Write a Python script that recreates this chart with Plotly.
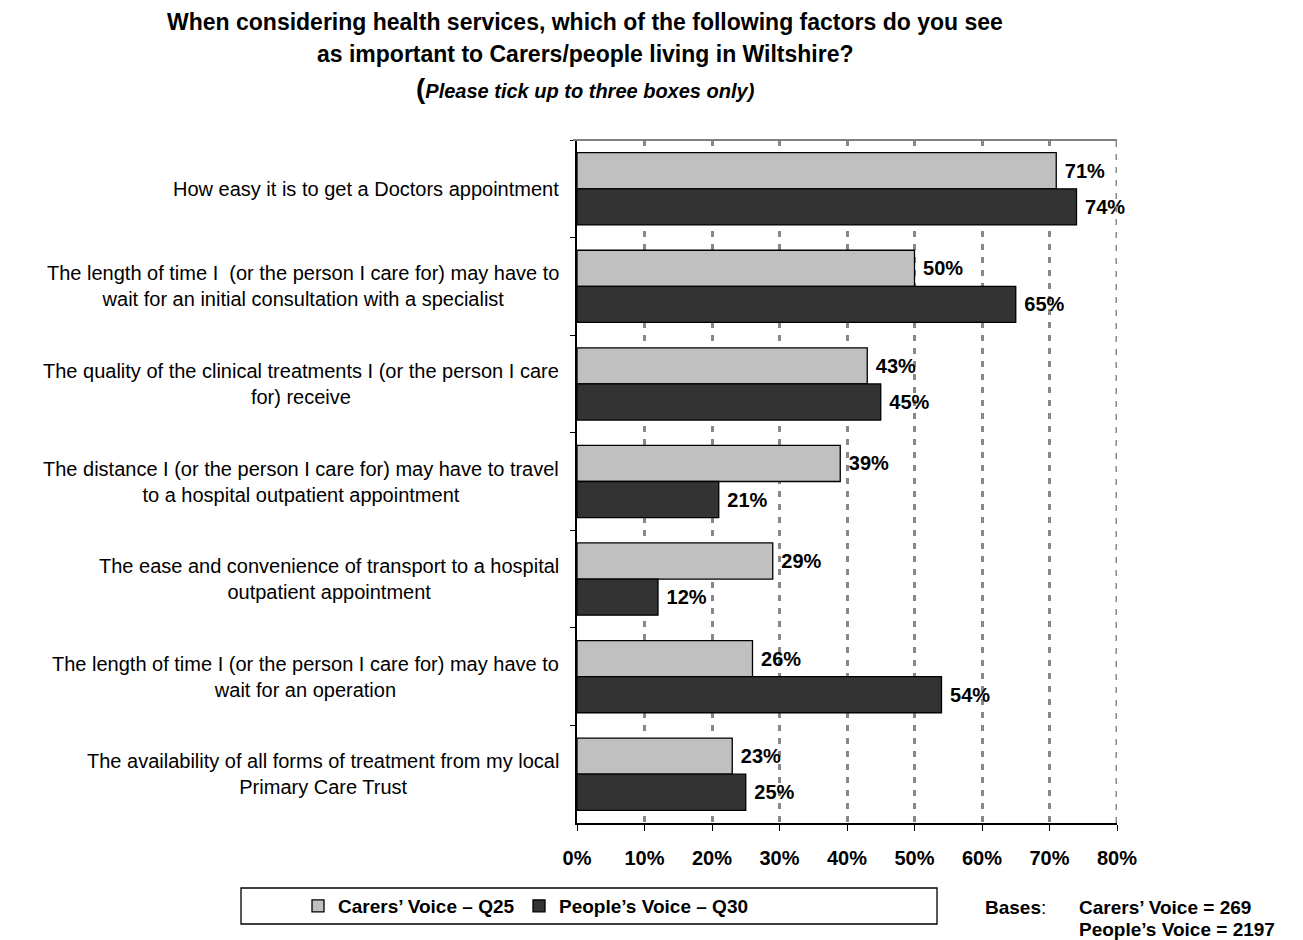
import plotly.graph_objects as go

# Survey factors (top to bottom) and the share of respondents choosing each
factors = [
    "How easy it is to get a Doctors appointment",
    "The length of time I  (or the person I care for) may have to<br>wait for an initial consultation with a specialist",
    "The quality of the clinical treatments I (or the person I care<br>for) receive",
    "The distance I (or the person I care for) may have to travel<br>to a hospital outpatient appointment",
    "The ease and convenience of transport to a hospital<br>outpatient appointment",
    "The length of time I (or the person I care for) may have to<br>wait for an operation",
    "The availability of all forms of treatment from my local<br>Primary Care Trust",
]
carers_q25 = [71, 50, 43, 39, 29, 26, 23]
people_q30 = [74, 65, 45, 21, 12, 54, 25]
x_ticks = [0, 10, 20, 30, 40, 50, 60, 70, 80]
x_tick_labels = [f"{v}%" for v in x_ticks]

FONT = "Liberation Sans, Arial, sans-serif"

# plot area in pixels: x 577..1117, y 140..823
def px_x(p):
    return (p - 577) / 540


def px_y(p):
    return (823 - p) / 683


fig = go.Figure()
fig.add_trace(go.Bar(
    name="Carers’ Voice – Q25", y=factors, x=carers_q25, orientation="h",
    marker=dict(color="#C0C0C0", line=dict(color="#000000", width=1.3)),
    text=[f" {v}%" for v in carers_q25], textposition="outside",
    textfont=dict(family=FONT, size=20, color="#000000", weight="bold"),
    cliponaxis=False, constraintext="none", legend="legend",
))
fig.add_trace(go.Bar(
    name="People’s Voice – Q30", y=factors, x=people_q30, orientation="h",
    marker=dict(color="#333333", line=dict(color="#000000", width=1.3)),
    text=[f" {v}%" for v in people_q30], textposition="outside",
    textfont=dict(family=FONT, size=20, color="#000000", weight="bold"),
    cliponaxis=False, constraintext="none", legend="legend2",
))

annotations = []
# Category labels, centred multi-line text to the left of the axis
for f in factors:
    annotations.append(dict(
        x=0, xref="paper", y=f, yref="y", xanchor="right", yanchor="middle",
        xshift=-16, text=f, showarrow=False, align="center",
        font=dict(family=FONT, size=20, color="#000000"),
    ))

# Title lines
title_lines = [
    ("<b>When considering health services, which of the following factors do you see</b>", 22, 23),
    ("<b>as important to Carers/people living in Wiltshire?</b>", 54, 23),
    ("<b><span style='font-size:28px'>(</span><i>Please tick up to three boxes only)</i></b>", 88, 20),
]
for txt, ypx, size in title_lines:
    annotations.append(dict(
        x=px_x(585), xref="paper", y=px_y(ypx), yref="paper",
        xanchor="center", yanchor="middle", text=txt, showarrow=False,
        font=dict(family=FONT, size=size, color="#000000"),
    ))

# Sample bases note
annotations.append(dict(
    x=px_x(983), xref="paper", y=px_y(907), yref="paper",
    xanchor="left", yanchor="middle", text="<b>Bases</b>:", showarrow=False,
    font=dict(family=FONT, size=19, color="#000000"),
))
for txt, ypx in [("<b>Carers’ Voice = 269</b>", 907), ("<b>People’s Voice = 2197</b>", 929)]:
    annotations.append(dict(
        x=px_x(1077), xref="paper", y=px_y(ypx), yref="paper",
        xanchor="left", yanchor="middle", text=txt, showarrow=False,
        font=dict(family=FONT, size=19, color="#000000"),
    ))

shapes = [
    # grey frame along the top of the plot area
    dict(type="line", xref="paper", yref="paper", x0=px_x(573), x1=1, y0=1, y1=1,
         line=dict(color="#808080", width=2)),
    # dashed right-hand frame at 80%
    dict(type="line", xref="x", yref="paper", x0=80, x1=80, y0=0, y1=1,
         line=dict(color="#888888", width=3, dash="6px,7px")),
    # box around the legend
    dict(type="rect", xref="paper", yref="paper",
         x0=px_x(241), x1=px_x(937), y0=px_y(924), y1=px_y(888),
         line=dict(color="#000000", width=1.3), fillcolor="rgba(0,0,0,0)"),
]

legend_style = dict(
    orientation="h", xanchor="left", yanchor="middle", y=px_y(906),
    font=dict(family=FONT, size=19, color="#000000", weight="bold"),
    bgcolor="rgba(0,0,0,0)", borderwidth=0,
)

fig.update_layout(
    width=1303, height=940,
    margin=dict(l=577, r=186, t=140, b=117),
    paper_bgcolor="#FFFFFF", plot_bgcolor="#FFFFFF",
    barmode="group", bargap=0.26, bargroupgap=0,
    font=dict(family=FONT, color="#000000"),
    showlegend=True,
    legend=dict(x=px_x(298), **legend_style),
    legend2=dict(x=px_x(519), **legend_style),
    annotations=annotations,
    shapes=shapes,
)

fig.update_xaxes(
    range=[0, 80], tickvals=x_ticks, ticktext=x_tick_labels,
    showgrid=True, gridcolor="#888888", gridwidth=3, griddash="6px,7px",
    zeroline=False, showline=True, linecolor="#000000", linewidth=1.5,
    ticks="outside", ticklen=6, tickcolor="#000000",
    tickfont=dict(family=FONT, size=20, color="#000000", weight="bold"),
    ticklabelstandoff=10,
)
fig.update_yaxes(
    type="category", autorange="reversed", tickson="boundaries",
    showticklabels=False, showgrid=False, zeroline=False,
    showline=True, linecolor="#000000", linewidth=1.5,
    ticks="outside", ticklen=5, tickcolor="#000000",
)

fig.write_html("out.html")
